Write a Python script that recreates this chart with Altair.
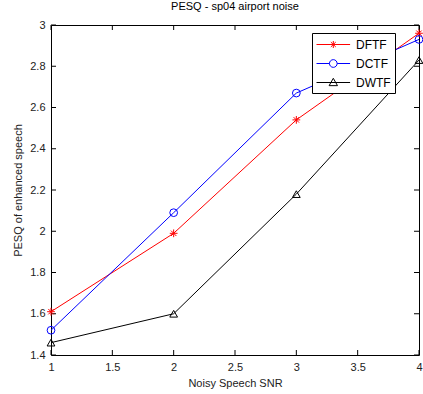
import altair as alt
import pandas as pd

snr = [1, 2, 3, 4]
dftf = [1.61, 1.99, 2.54, 2.96]
dctf = [1.52, 2.09, 2.67, 2.93]
dwtf = [1.46, 1.60, 2.18, 2.83]
series_names = ["DFTF", "DCTF", "DWTF"]
series_colors = ["#FF0000", "#0000FF", "#000000"]
x_ticks = [1, 1.5, 2, 2.5, 3, 3.5, 4]
y_ticks = [1.4, 1.6, 1.8, 2.0, 2.2, 2.4, 2.6, 2.8, 3.0]

rows = []
for name, vals in zip(series_names, [dftf, dctf, dwtf]):
    for s, v in zip(snr, vals):
        rows.append({"snr": s, "pesq": v, "series": name})
df = pd.DataFrame(rows)
xt = pd.DataFrame({"t": x_ticks})
yt = pd.DataFrame({"t": y_ticks})

W, H = 368, 330
FONT = "Liberation Sans"

xscale = alt.Scale(domain=[1, 4], nice=False, zero=False)
yscale = alt.Scale(domain=[1.4, 3.0], nice=False, zero=False)
cscale = alt.Scale(domain=series_names, range=series_colors)

plot_shapes = [
    "M-1,0L1,0M0,-1L0,1M-0.7,-0.7L0.7,0.7M-0.7,0.7L0.7,-0.7",
    "circle",
    "triangle-up",
]
# legend symbols: short line with marker in the middle (symbol unit = 7px)
legend_shapes = [
    "M-1,0L3.8,0M1.4,-0.5L1.4,0.5M0.9,0L1.9,0M1.05,-0.35L1.75,0.35M1.05,0.35L1.75,-0.35",
    "M-1,0L0.85,0M1.95,0L3.8,0M1.95,0A0.55,0.55 0 1,1 0.85,0A0.55,0.55 0 1,1 1.95,0",
    "M-1,0L3.8,0M1.4,-0.6L2.0,0.45L0.8,0.45Z",
]

base = alt.Chart(df)

lines = base.mark_line(strokeWidth=1).encode(
    x=alt.X("snr:Q", scale=xscale,
            axis=alt.Axis(values=x_ticks, format="~g", title="Noisy Speech SNR",
                          ticks=False, domain=False, grid=False, labelPadding=6,
                          labelFlush=False, titlePadding=5)),
    y=alt.Y("pesq:Q", scale=yscale,
            axis=alt.Axis(values=y_ticks, format=".1~f", title="PESQ of enhanced speech",
                          ticks=False, domain=False, grid=False, labelPadding=6,
                          labelFlush=False, titlePadding=6)),
    color=alt.Color("series:N", scale=cscale, legend=None),
    detail="series:N",
)

points = base.mark_point(filled=False, size=60, strokeWidth=1, opacity=1).encode(
    x=alt.X("snr:Q", scale=xscale),
    y=alt.Y("pesq:Q", scale=yscale),
    color=alt.Color("series:N", scale=cscale, legend=None),
    shape=alt.Shape("series:N", scale=alt.Scale(domain=series_names, range=plot_shapes),
                    legend=None),
)

leg = dict(title=None, orient="none", legendX=261, legendY=8,
           symbolSize=196, symbolStrokeWidth=1,
           symbolOpacity=1, symbolFillColor="transparent",
           labelFont=FONT, labelFontSize=12,
           labelColor="#000000", labelOffset=25,
           rowPadding=5, padding=4,
           strokeColor="#000000", fillColor="#FFFFFF")

legend_layer = base.mark_point(filled=False, opacity=0).encode(
    x=alt.X("snr:Q", scale=xscale),
    y=alt.Y("pesq:Q", scale=yscale),
    color=alt.Color("series:N", scale=cscale, legend=alt.Legend(**leg)),
    shape=alt.Shape("series:N", scale=alt.Scale(domain=series_names, range=legend_shapes),
                    legend=alt.Legend(**leg)),
)

tick_len = 5
bx = alt.Chart(xt).mark_rule(color="#000000", strokeWidth=1).encode(
    x=alt.X("t:Q", scale=xscale), y=alt.value(H), y2=alt.value(H - tick_len))
tx = alt.Chart(xt).mark_rule(color="#000000", strokeWidth=1).encode(
    x=alt.X("t:Q", scale=xscale), y=alt.value(0), y2=alt.value(tick_len))
ly = alt.Chart(yt).mark_rule(color="#000000", strokeWidth=1).encode(
    y=alt.Y("t:Q", scale=yscale), x=alt.value(0), x2=alt.value(tick_len))
ry = alt.Chart(yt).mark_rule(color="#000000", strokeWidth=1).encode(
    y=alt.Y("t:Q", scale=yscale), x=alt.value(W), x2=alt.value(W - tick_len))

chart = alt.layer(bx, tx, ly, ry, lines, points, legend_layer).resolve_scale(
    shape="independent", color="independent"
).properties(
    width=W, height=H,
    title=alt.Title("PESQ - sp04 airport noise", font=FONT, fontSize=11,
                    fontWeight="normal", color="#000000", offset=7),
    autosize=alt.AutoSizeParams(type="none"),
    padding={"left": 51, "top": 25, "right": 4, "bottom": 39},
    background="#FFFFFF",
).configure_view(
    stroke="#000000", strokeWidth=1
).configure_axis(
    labelFont=FONT, labelFontSize=11, labelColor="#222222",
    titleFont=FONT, titleFontSize=11, titleColor="#222222", titleFontWeight="normal",
)

chart.save("out.html", embed_options={"renderer": "svg", "actions": False})
